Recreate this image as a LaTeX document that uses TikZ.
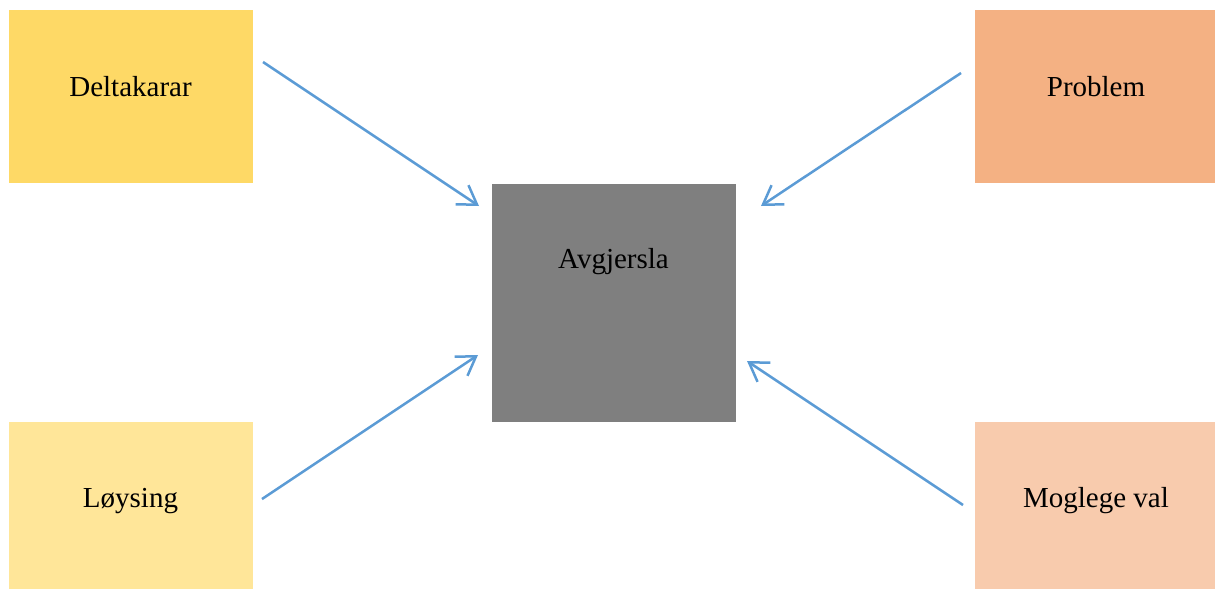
\documentclass[tikz,border=0pt]{standalone}
\usepackage{fontspec}
\setmainfont{Liberation Serif}
\usetikzlibrary{arrows.meta}
\definecolor{cDelta}{HTML}{FED966}
\definecolor{cProb}{HTML}{F4B183}
\definecolor{cLoys}{HTML}{FFE699}
\definecolor{cMog}{HTML}{F8CBAD}
\definecolor{cGray}{HTML}{7F7F7F}
\definecolor{cArrow}{HTML}{5B9BD5}
\tikzset{
  box/.style={draw=none, inner sep=0pt, outer sep=0pt, rectangle},
  lbl/.style={anchor=base, inner sep=0pt, font=\fontsize{29}{34}\selectfont},
  conn/.style={draw=cArrow, line width=2.5pt, -{Straight Barb[length=18pt,width=23pt,line width=2.5pt]}}
}
\begin{document}
\begin{tikzpicture}[x=1pt,y=-1pt]
\useasboundingbox (0,0) rectangle (1215,589);
\node[box, fill=cDelta, minimum width=244pt, minimum height=173pt] (delta) at (131,96.5) {};
\node[box, fill=cProb, minimum width=240pt, minimum height=173pt] (prob) at (1095,96.5) {};
\node[box, fill=cLoys, minimum width=244pt, minimum height=167pt] (loys) at (131,505.5) {};
\node[box, fill=cMog, minimum width=240pt, minimum height=167pt] (mog) at (1095,505.5) {};
\node[box, fill=cGray, minimum width=244pt, minimum height=238pt] (avg) at (614,303) {};
\node[lbl] (tDelta) at (130.5,96) {Deltakarar};
\node[lbl] (tProb) at (1096,96) {Problem};
\node[lbl] (tLoys) at (130.5,507) {Løysing};
\node[lbl] (tMog) at (1096,507) {Moglege val};
\node[lbl] (tAvg) at (613.5,268) {Avgjersla};
\coordinate (s1) at (263,62);
\coordinate (e1) at (479,206);
\coordinate (s2) at (961,73);
\coordinate (e2) at (761,206);
\coordinate (s3) at (262,499);
\coordinate (e3) at (478,355);
\coordinate (s4) at (963,505);
\coordinate (e4) at (747,361);
\draw[conn] (s1) -- (e1);
\draw[conn] (s2) -- (e2);
\draw[conn] (s3) -- (e3);
\draw[conn] (s4) -- (e4);
\end{tikzpicture}
\end{document}
